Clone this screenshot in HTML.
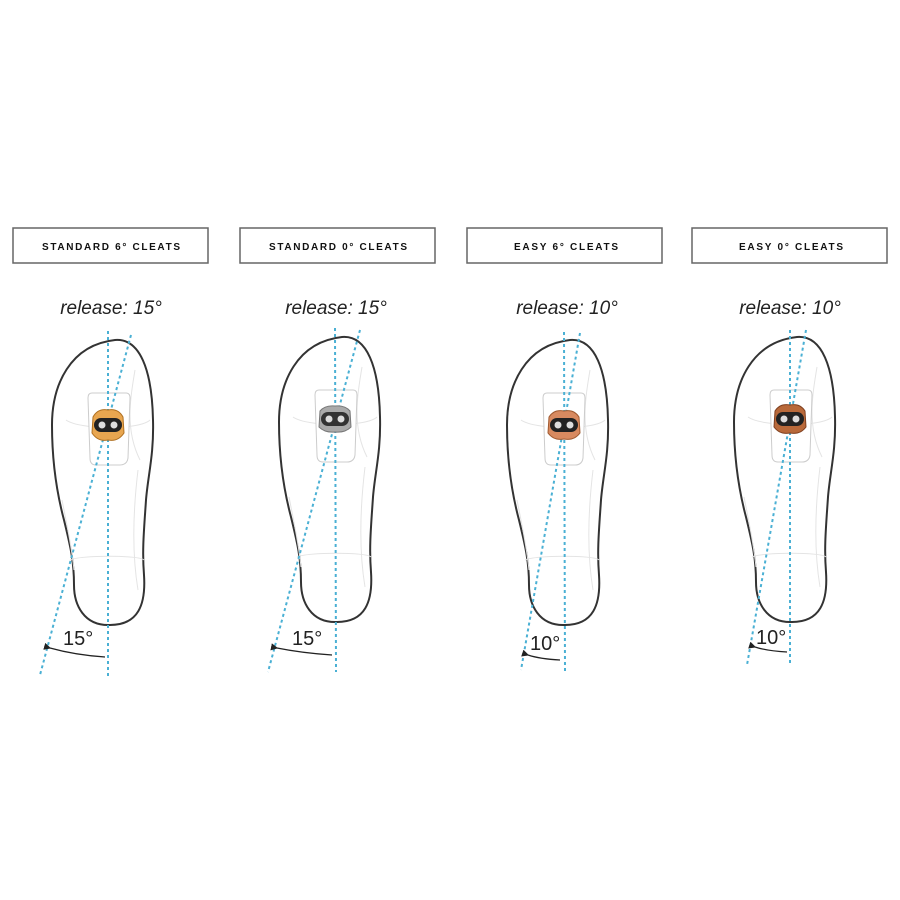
<!DOCTYPE html>
<html><head><meta charset="utf-8"><style>
body{margin:0;background:#fff}
svg{display:block}
.lbl{font-family:"Liberation Sans",sans-serif;font-weight:bold;font-size:10px;fill:#111}
.rel{font-family:"Liberation Sans",sans-serif;font-style:italic;font-size:19px;fill:#222}
.ang{font-family:"Liberation Sans",sans-serif;font-size:20px;fill:#222}
</style></head><body>
<svg width="900" height="900" viewBox="0 0 900 900" xmlns="http://www.w3.org/2000/svg">
<defs>
<g id="shoe">
<path d="M115,340 C140,338 152,370 153,420 C154,455 148,475 146,500 C144,530 142,550 144,575 C146,605 138,625 110,625 C84,626 74,605 74,585 C74,560 70,545 64,520 C56,490 52,460 52,425 C52,385 70,345 115,340 Z" fill="#fff" stroke="#333" stroke-width="2"/>
<path d="M135,370 C130,400 125,430 140,460 M66,420 C80,430 140,430 150,420 M70,560 C80,555 140,555 144,560 M138,470 C132,520 133,560 138,590 M62,500 C68,530 72,550 74,570" fill="none" stroke="#e4e4e4" stroke-width="1"/>
<path d="M92,393 L126,393 Q130,393 130,398 L128,458 Q127,465 120,465 L96,465 Q90,465 90,458 L88,398 Q88,393 92,393 Z" fill="#fff" stroke="#ccc" stroke-width="1"/>
</g>
<marker id="ah" markerWidth="6" markerHeight="6" refX="1" refY="3" orient="auto"><path d="M6,0 L0,3 L6,6 Z" fill="#222"/></marker>
</defs>
<g fill="#fff" stroke="#666" stroke-width="1.5">
<rect x="13" y="228" width="195" height="35"/>
<rect x="240" y="228" width="195" height="35"/>
<rect x="467" y="228" width="195" height="35"/>
<rect x="692" y="228" width="195" height="35"/>
</g>
<text class="lbl" x="42" y="250" textLength="138" lengthAdjust="spacing">STANDARD 6° CLEATS</text>
<text class="lbl" x="269" y="250" textLength="138" lengthAdjust="spacing">STANDARD 0° CLEATS</text>
<text class="lbl" x="514" y="250" textLength="104" lengthAdjust="spacing">EASY 6° CLEATS</text>
<text class="lbl" x="739" y="250" textLength="104" lengthAdjust="spacing">EASY 0° CLEATS</text>
<text class="rel" x="111" y="314" text-anchor="middle">release: 15°</text>
<text class="rel" x="336" y="314" text-anchor="middle">release: 15°</text>
<text class="rel" x="567" y="314" text-anchor="middle">release: 10°</text>
<text class="rel" x="790" y="314" text-anchor="middle">release: 10°</text>

<use href="#shoe"/>
<use href="#shoe" transform="translate(227,-3)"/>
<use href="#shoe" transform="translate(455,0)"/>
<use href="#shoe" transform="translate(682,-3)"/>

<g stroke="#4ab0d4" stroke-width="2" stroke-dasharray="3,3" fill="none">
<line x1="108" y1="331" x2="108" y2="676"/>
<line x1="131" y1="335" x2="40" y2="675"/>
<line x1="335" y1="328" x2="336" y2="672"/>
<line x1="360" y1="330" x2="268" y2="672"/>
<line x1="564" y1="332" x2="565" y2="672"/>
<line x1="580" y1="333" x2="521" y2="670"/>
<line x1="790" y1="330" x2="790" y2="665"/>
<line x1="806" y1="330" x2="747" y2="665"/>
</g>

<g transform="translate(108,425)">
<path d="M-15,-8 Q-10,-17 0,-15 Q10,-17 15,-8 L16,8 Q10,17 0,15 Q-10,17 -16,8 Z" fill="#e8a650" stroke="#b07020"/>
<rect x="-14" y="-7" width="28" height="14" rx="7" fill="#222"/>
<circle cx="-6" cy="0" r="3.5" fill="#ddd"/><circle cx="6" cy="0" r="3.5" fill="#ddd"/>
</g>
<g transform="translate(335,419)">
<path d="M-15,-8 Q-10,-14 0,-13 Q10,-14 15,-8 L16,8 Q10,14 0,13 Q-10,14 -16,8 Z" fill="#aaa" stroke="#777"/>
<rect x="-14" y="-7" width="28" height="14" rx="7" fill="#333"/>
<circle cx="-6" cy="0" r="3.5" fill="#ddd"/><circle cx="6" cy="0" r="3.5" fill="#ddd"/>
</g>
<g transform="translate(564,425)">
<path d="M-15,-8 Q-10,-16 0,-14 Q10,-16 15,-8 L16,8 Q10,16 0,14 Q-10,16 -16,8 Z" fill="#d88a60" stroke="#a05a30"/>
<rect x="-14" y="-7" width="28" height="14" rx="7" fill="#222"/>
<circle cx="-6" cy="0" r="3.5" fill="#ddd"/><circle cx="6" cy="0" r="3.5" fill="#ddd"/>
</g>
<g transform="translate(790,419)">
<path d="M-15,-8 Q-10,-16 0,-14 Q10,-16 15,-8 L16,8 Q10,16 0,14 Q-10,16 -16,8 Z" fill="#b8693a" stroke="#804020"/>
<rect x="-14" y="-7" width="28" height="14" rx="7" fill="#222"/>
<circle cx="-6" cy="0" r="3.5" fill="#ddd"/><circle cx="6" cy="0" r="3.5" fill="#ddd"/>
</g>

<g stroke="#222" stroke-width="1.2" fill="none">
<path d="M105,657 Q75,655 50,648" marker-end="url(#ah)"/>
<path d="M332,655 Q302,653 277,648" marker-end="url(#ah)"/>
<path d="M560,660 Q540,659 528,655" marker-end="url(#ah)"/>
<path d="M787,652 Q767,651 755,647" marker-end="url(#ah)"/>
</g>
<text class="ang" x="63" y="645">15°</text>
<text class="ang" x="292" y="645">15°</text>
<text class="ang" x="530" y="650">10°</text>
<text class="ang" x="756" y="644">10°</text>
</svg>
</body></html>
